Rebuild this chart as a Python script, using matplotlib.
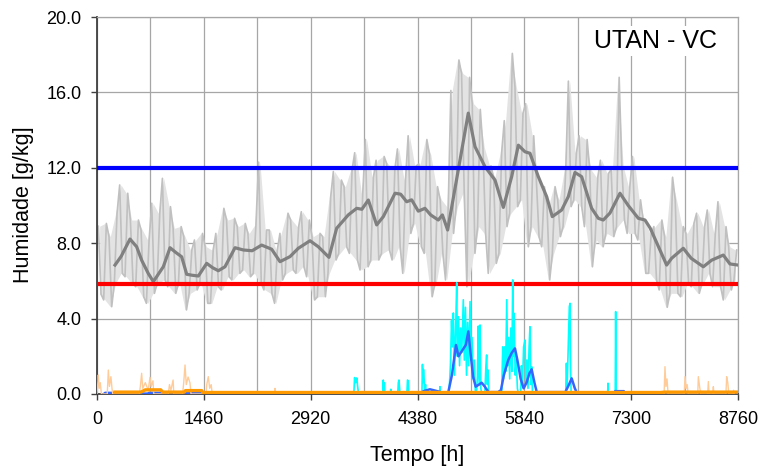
import matplotlib
matplotlib.use('Agg')
import matplotlib.pyplot as plt
import numpy as np
from matplotlib.ticker import FormatStrFormatter

plt.rcParams['font.family'] = ['Liberation Sans', 'DejaVu Sans']

# ---------------- data ----------------
# hourly humidity, summarised as peak / trough per 73 h block
gray_hi = [8.9, 9.05, 8.35, 9.59, 11.09, 10.65, 9.23, 9.23, 8.7, 8.17,
           10.12, 9.59, 11.44, 9.94, 8.79, 8.88, 8.35, 7.64, 8.17, 8.52,
           7.81, 7.64, 8.52, 9.85, 9.23, 9.32, 8.88, 9.05, 8.52, 8.95,
           12.3, 8.7, 8.7, 7.64, 8.52, 9.59, 9.23, 8.88, 9.67, 9.23,
           8.35, 8.52, 8.35, 10.47, 11.8, 11.35, 11.0, 11.9, 12.8, 10.65,
           13.5, 11.5, 12.4, 12.6, 12.2, 11.9, 13.0, 11.35, 13.7, 12.1,
           12.2, 13.5, 12.7, 11.0, 10.3, 9.94, 16.1, 17.72, 17.0, 16.8,
           15.4, 15.1, 13.1, 12.1, 11.5, 12.8, 14.5, 18.07, 16.3, 14.9,
           15.4, 13.7, 11.35, 11.0, 9.94, 11.0, 10.3, 11.9, 16.6, 12.8,
           13.7, 13.5, 11.9, 11.5, 12.4, 11.7, 11.9, 16.8, 12.1, 11.0,
           12.6, 10.3, 9.23, 8.52, 8.88, 9.23, 8.35, 11.5, 10.3, 8.88,
           8.52, 9.05, 9.59, 8.88, 9.76, 8.52, 10.2, 8.88, 7.81, 7.64]
gray_lo = [5.3, 4.99, 4.63, 5.87, 6.4, 6.22, 5.87, 5.69, 5.16, 4.81,
           5.34, 5.87, 6.05, 5.69, 5.34, 5.87, 4.46, 5.34, 5.52, 5.87,
           4.81, 4.81, 5.69, 5.52, 6.22, 6.05, 6.4, 6.58, 6.22, 6.4,
           5.87, 5.52, 5.34, 4.81, 6.05, 6.4, 6.58, 6.4, 6.75, 6.22,
           4.99, 5.16, 5.16, 6.4, 7.11, 7.46, 7.81, 7.46, 7.11, 6.58,
           6.75, 7.11, 7.11, 7.46, 7.64, 7.11, 7.81, 6.4, 8.52, 9.05,
           7.81, 7.46, 5.16, 5.87, 7.46, 6.05, 8.52, 9.94, 10.65, 5.69,
           7.46, 8.88, 8.52, 6.4, 6.93, 7.46, 8.88, 9.59, 9.94, 10.3,
           7.81, 8.88, 8.35, 7.81, 6.05, 7.46, 8.35, 8.88, 9.94, 10.3,
           9.94, 8.88, 6.75, 8.17, 7.81, 8.52, 8.35, 8.88, 9.23, 8.52,
           8.52, 8.17, 6.4, 6.4, 6.05, 5.52, 4.6, 5.34, 5.34, 5.16,
           5.87, 5.69, 5.34, 5.87, 6.4, 5.69, 5.69, 4.99, 5.52, 6.05]
block_hours = 73

# moving average of humidity
ma_t = [246, 330, 451, 542, 610, 700, 770, 906, 998, 1080, 1157, 1226, 1300, 1385,
        1499, 1580, 1658, 1749, 1886, 2000, 2120, 2250, 2387, 2501, 2638, 2751,
        2911, 3025, 3170, 3275, 3434, 3549, 3620, 3708, 3822, 3913, 4073, 4150,
        4232, 4300, 4391, 4482, 4560, 4664, 4720, 4792, 4937, 5074, 5166, 5302,
        5439, 5553, 5667, 5758, 5849, 5917, 6031, 6145, 6222, 6350, 6441, 6532,
        6623, 6760, 6851, 6919, 7010, 7147, 7260, 7398, 7489, 7560, 7785, 7853,
        8012, 8120, 8286, 8400, 8559, 8650, 8760]
ma_v = [6.84, 7.3, 8.22, 7.81, 7.1, 6.4, 5.96, 6.75, 7.76, 7.5, 7.28, 6.35, 6.3, 6.26,
        6.93, 6.7, 6.54, 6.75, 7.76, 7.64, 7.6, 7.9, 7.68, 7.02, 7.29, 7.73,
        8.13, 7.81, 7.25, 8.79, 9.5, 9.85, 9.8, 10.29, 8.97, 9.41, 10.65, 10.6,
        10.2, 10.3, 9.7, 9.85, 9.5, 9.23, 9.5, 8.7, 11.88, 14.9, 13.12, 12.06,
        11.35, 9.9, 11.53, 13.2, 12.85, 12.77, 11.53, 10.47, 9.41, 9.76, 10.47, 11.75,
        11.53, 9.85, 9.32, 9.23, 9.6, 10.65, 10.0, 9.32, 9.23, 8.8, 6.84, 7.2,
        7.73, 7.2, 6.75, 7.1, 7.37, 6.9, 6.84]

upper_limit = 12.0
lower_limit = 5.85

# hourly excess above the upper limit
exc_t = [3510, 3520, 3535, 3550, 3565, 3575,
         3905, 3912, 3920, 3928, 3935,
         4010, 4015, 4020,
         4110, 4118, 4127, 4135, 4140,
         4235, 4243, 4255, 4262,
         4440, 4448, 4455, 4462, 4470, 4478, 4490, 4500,
         4680, 4687, 4694,
         4810, 4830, 4845, 4858, 4870, 4885, 4900, 4916, 4925, 4940, 4955, 4970,
         4985, 5006, 5020, 5035, 5050, 5065, 5080, 5098, 5110, 5125, 5140, 5155,
         5170, 5185, 5200, 5211, 5222, 5235, 5245, 5260, 5300, 5315, 5325, 5335,
         5345, 5355,
         5530, 5545, 5555, 5570, 5585, 5600, 5612, 5625, 5640, 5655, 5670, 5681,
         5690, 5700, 5715, 5730, 5745, 5760, 5790, 5800, 5815, 5830, 5849, 5860,
         5875, 5890, 5905, 5917, 5930, 5940, 5950, 5960,
         6405, 6415, 6425, 6440, 6455, 6465, 6472, 6480,
         6978, 6984, 6990,
         7082, 7088, 7094]
exc_v = [0, 0.87, 0.6, 0.85, 0.3, 0,
         0, 0.74, 0.2, 0.6, 0,
         0, 0.25, 0,
         0, 0.6, 0.74, 0.3, 0,
         0, 0.74, 0.7, 0,
         0, 1.57, 0.6, 1.3, 0.83, 0.2, 0.5, 0,
         0, 0.39, 0,
         0, 1.5, 3.9, 2.5, 4.3, 1.0, 3.2, 5.9, 2.0, 4.1, 1.5, 3.5,
         2.2, 5.0, 1.8, 4.6, 1.0, 3.8, 1.5, 4.9, 1.8, 3.0, 0.8, 1.8,
         0.2, 0, 1.0, 3.6, 0.5, 3.66, 0.3, 0, 0, 1.5, 2.07, 0.5,
         1.27, 0,
         0, 2.5, 0.8, 2.5, 1.2, 5.0, 1.5, 3.0, 0.8, 3.5, 1.2, 6.05,
         2.0, 4.28, 1.0, 1.8, 0.3, 0, 0, 1.5, 0.5, 2.5, 2.86, 0.6,
         1.8, 0.3, 2.5, 3.57, 0.5, 1.45, 0.2, 0,
         0, 1.63, 0.4, 2.5, 4.63, 4.81, 1.27, 0,
         0, 0.57, 0,
         0, 4.37, 0]

# moving average of the excess
exc_ma_t = [100, 110, 245, 255, 700, 711, 900, 910, 1225, 1235, 1430, 1440, 3500,
            3530, 3600, 3620, 4440, 4460, 4550, 4650, 4760, 4801, 4850, 4906, 4940,
            4990, 5040, 5075, 5105, 5140, 5175, 5220, 5257, 5300, 5350, 5480, 5520,
            5560, 5620, 5670, 5712, 5745, 5790, 5830, 5870, 5910, 5940, 5980, 6010,
            6400, 6450, 6487, 6530, 6560, 7070, 7080, 7200, 7210, 8760]
exc_ma_v = [0.02, 0.06, 0.06, 0.02, 0.02, 0.06, 0.06, 0.02, 0.02, 0.06, 0.06, 0.02, 0.02,
            0.08, 0.08, 0.02, 0.02, 0.15, 0.25, 0.15, 0.05, 0.1, 1.0, 2.6, 2.0,
            2.3, 2.6, 3.32, 2.16, 0.92, 0.39, 0.5, 0.6, 0.39, 0.1, 0.1, 0.2,
            1.0, 1.8, 2.2, 2.42, 1.8, 0.8, 0.3, 0.6, 1.1, 1.31, 0.57, 0.1,
            0.1, 0.5, 0.83, 0.3, 0.05, 0.05, 0.15, 0.15, 0.02, 0.02]

# hourly deficit below the lower limit
def_t = [0, 10, 18, 30, 45, 60, 140, 155, 170, 190, 205, 215,
         580, 595, 610, 625, 660, 700, 724, 740, 765, 775,
         975, 990, 1010, 1040, 1050,
         1170, 1185, 1203, 1220, 1245, 1270, 1285,
         1490, 1500, 1521, 1540, 1560, 1575,
         2425, 2433, 2441,
         7750, 7762, 7775, 7790, 7805,
         8025, 8036, 8050, 8065, 8080,
         8210, 8218, 8235, 8250,
         8345, 8355, 8365, 8415, 8423, 8431,
         8595, 8605, 8620, 8635, 8690, 8700, 8710]
def_v = [0, 0.5, 1.01, 0.3, 0.6, 0, 0, 1.27, 0.4, 0.92, 0.3, 0,
         0, 0.5, 1.1, 0.3, 0.6, 0.2, 0.88, 0.4, 0.7, 0,
         0, 0.5, 0.2, 0.74, 0,
         0, 0.6, 1.54, 0.5, 0.9, 0.6, 0,
         0, 0.5, 0.92, 0.3, 0.5, 0,
         0, 0.3, 0,
         0, 1.45, 0.4, 0.8, 0,
         0, 0.92, 0.3, 0.5, 0,
         0, 0.92, 0.4, 0,
         0, 0.66, 0, 0, 0.39, 0,
         0, 0.92, 0.6, 0, 0, 0.2, 0]

# moving average of the deficit
def_ma_t = [246, 600, 660, 870, 900, 1190, 1210, 1430, 1450, 2600, 7700, 7760, 8760]
def_ma_v = [0.1, 0.1, 0.22, 0.22, 0.1, 0.1, 0.18, 0.18, 0.08, 0.08, 0.08, 0.1, 0.1]

title_text = 'UTAN - VC'
x_ticks = [0, 1460, 2920, 4380, 5840, 7300, 8760]
y_ticks = [0, 4, 8, 12, 16, 20]

# ---------------- hourly series: zigzag of peaks / troughs ----------------
gray_t, gray_v = [], []
band_t = []
for i, (h, l) in enumerate(zip(gray_hi, gray_lo)):
    t0 = i * block_hours
    gray_t += [t0 + 18, t0 + 55]
    gray_v += [h, l] if i % 2 == 0 else [l, h]
    band_t.append(t0 + 36)

# ---------------- plot ----------------
fig = plt.figure(figsize=(7.6, 4.72), dpi=100)
ax = fig.add_axes([97 / 760, 1 - 394 / 472, 641 / 760, 377 / 472])

ax.fill_between(band_t, gray_lo, gray_hi, color='#e3e3e3', lw=0, zorder=1.5)
ax.plot(gray_t, gray_v, color='#c0c0c0', lw=1.2, zorder=2)
ax.plot(ma_t, ma_v, color='#808080', lw=2.3, zorder=3)
ax.axhline(upper_limit, color='#0000ff', lw=3, zorder=4)
ax.axhline(lower_limit, color='#ff0000', lw=3, zorder=4)
ax.plot(exc_t, exc_v, color='#00ffff', lw=1.2, zorder=5)
ax.plot(exc_ma_t, exc_ma_v, color='#3366ff', lw=1.8, zorder=6)
ax.plot(def_t, def_v, color='#ffcc99', lw=1.0, zorder=7)
ax.plot(def_ma_t, def_ma_v, color='#ff9900', lw=2.4, zorder=8)

ax.set_xlim(0, 8760)
ax.set_ylim(0, 20)
ax.set_xticks(x_ticks)
ax.set_xticks([730, 2190, 3650, 5110, 6570, 8030], minor=True)
ax.set_yticks(y_ticks)
ax.yaxis.set_major_formatter(FormatStrFormatter('%.1f'))
ax.set_axisbelow(True)
ax.grid(True, which='both', color='#a6a6a6', lw=0.9)
ax.tick_params(which='minor', length=0)
ax.tick_params(axis='x', which='major', direction='out', length=4, width=1,
               color='#404040', labelsize=13, pad=8)
ax.tick_params(axis='y', which='major', direction='out', length=4, width=1,
               color='#404040', labelsize=13, pad=7)
for s in ['left', 'bottom']:
    ax.spines[s].set_color('#404040')
    ax.spines[s].set_linewidth(1.3)
for s in ['top', 'right']:
    ax.spines[s].set_color('#a6a6a6')
    ax.spines[s].set_linewidth(0.9)

fig.text(656 / 760, 1 - 41 / 472, title_text, ha='center', va='center', fontsize=18,
         bbox=dict(facecolor='white', edgecolor='none', pad=2))
fig.text(24 / 760, 1 - 205 / 472, 'Humidade [g/kg]', rotation=90, ha='center',
         va='center', fontsize=15.5)
fig.text(417 / 760, 1 - 455 / 472, 'Tempo [h]', ha='center', va='center', fontsize=15.5)

fig.savefig('out.png', dpi=100)
